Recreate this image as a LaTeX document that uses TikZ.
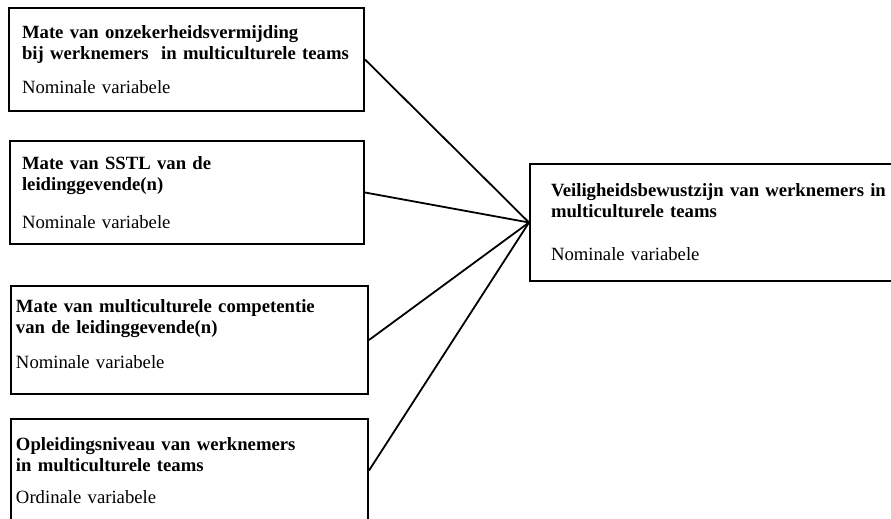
\documentclass[tikz,border=0pt]{standalone}
\usepackage{fontspec}
\setmainfont{Liberation Serif}
\begin{document}
\begin{tikzpicture}[x=1pt,y=-1pt,
  varbox/.style={draw,line width=2pt,anchor=north west,align=left,inner ysep=0pt,
    font=\fontsize{18.7}{21}\selectfont},
  link/.style={line width=1.8pt}]
\useasboundingbox (0,0) rectangle (891,519);
\node[varbox,minimum width=355pt,minimum height=103pt,inner xsep=13pt,text width=329pt] (onzeker) at (8,7)
  {\textbf{Mate van onzekerheidsvermijding}\\ \textbf{bij werknemers\ \ in multiculturele teams}\\[13pt] Nominale variabele};
\node[varbox,minimum width=354pt,minimum height=103pt,inner xsep=12pt,text width=330pt] (sstl) at (9,140)
  {\textbf{Mate van SSTL van de}\\ \textbf{leidinggevende(n)}\\[17pt] Nominale variabele};
\node[varbox,minimum width=357pt,minimum height=108pt,inner xsep=5pt,text width=347pt] (competentie) at (10,285)
  {\textbf{Mate van multiculturele competentie}\\ \textbf{van de leidinggevende(n)}\\[14pt] Nominale variabele\rule[-12pt]{0pt}{12pt}};
\node[varbox,minimum width=357pt,minimum height=103pt,inner xsep=5pt,text width=347pt] (opleiding) at (10,418)
  {\textbf{Opleidingsniveau van werknemers}\\ \textbf{in multiculturele teams}\\[11pt] Ordinale variabele};
\node[varbox,minimum width=400pt,minimum height=117pt,inner xsep=21pt,text width=358pt] (veilig) at (529,163)
  {\textbf{Veiligheidsbewustzijn van werknemers in}\\ \textbf{multiculturele teams}\\[22pt] Nominale variabele};
\foreach \src in {onzeker,sstl,competentie,opleiding}
  \draw[link] (\src.east) -- (veilig.west);
\end{tikzpicture}
\end{document}
